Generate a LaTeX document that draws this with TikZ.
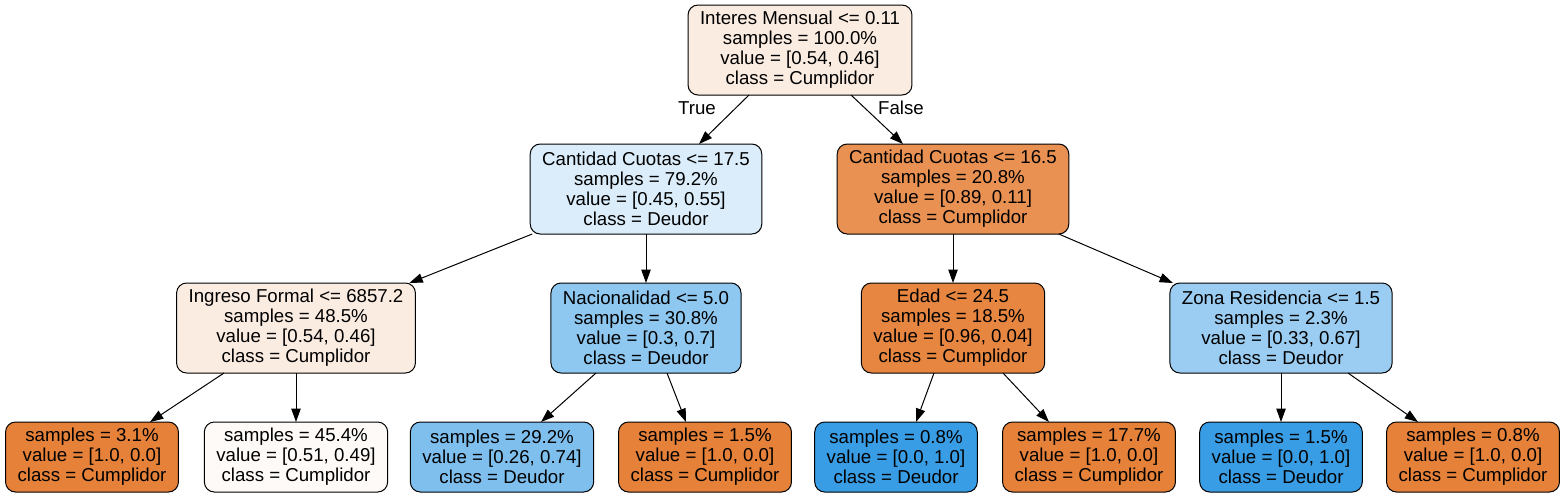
\documentclass[tikz,border=0pt]{standalone}
\usepackage{fontspec}
\setmainfont{Liberation Sans}
\usetikzlibrary{arrows.meta,calc}
\definecolor{cumpl}{RGB}{229,129,57}
\definecolor{deud}{RGB}{57,157,229}
\definecolor{rootc}{RGB}{251,236,226}
\definecolor{cuotasa}{RGB}{219,237,250}
\definecolor{cuotasb}{RGB}{232,145,82}
\definecolor{nacc}{RGB}{142,199,240}
\definecolor{edadc}{RGB}{230,134,65}
\definecolor{zonac}{RGB}{155,205,242}
\definecolor{leafb}{RGB}{254,250,247}
\definecolor{leafc}{RGB}{127,191,238}
\begin{document}
\begin{tikzpicture}[x=0.75pt,y=-0.75pt,>={Triangle[length=10pt,width=7pt]},
		box/.style={draw=black,line width=0.75pt,rounded corners=7.5pt,align=center,inner xsep=9pt,inner ysep=0pt,outer sep=0pt,font=\fontsize{14}{15}\selectfont},
		split/.style={box,minimum height=67.5pt},
		leaf/.style={box,minimum height=52.5pt},
		edge/.style={->,line width=0.75pt},
		lbl/.style={font=\fontsize{14}{15}\selectfont,inner sep=0pt}]
		\fill[white] (0,0) rectangle (1565,497);
		% level 0
		\node[split,fill=rootc] (root) at (800,50) {Interes Mensual <= 0.11\\samples = 100.0\%\\value = [0.54, 0.46]\\class = Cumplidor};
		% level 1
		\node[split,fill=cuotasa] (cuotasT) at (646,189) {Cantidad Cuotas <= 17.5\\samples = 79.2\%\\value = [0.45, 0.55]\\class = Deudor};
		\node[split,fill=cuotasb] (cuotasF) at (953,189) {Cantidad Cuotas <= 16.5\\samples = 20.8\%\\value = [0.89, 0.11]\\class = Cumplidor};
		% level 2
		\node[split,fill=rootc] (ingreso) at (296,328) {Ingreso Formal <= 6857.2\\samples = 48.5\%\\value = [0.54, 0.46]\\class = Cumplidor};
		\node[split,fill=nacc] (nacion) at (646,328) {Nacionalidad <= 5.0\\samples = 30.8\%\\value = [0.3, 0.7]\\class = Deudor};
		\node[split,fill=edadc] (edad) at (953,328) {Edad <= 24.5\\samples = 18.5\%\\value = [0.96, 0.04]\\class = Cumplidor};
		\node[split,fill=zonac] (zona) at (1281,328) {Zona Residencia <= 1.5\\samples = 2.3\%\\value = [0.33, 0.67]\\class = Deudor};
		% leaves
		\node[leaf,fill=cumpl] (hojaA) at (92,457) {samples = 3.1\%\\value = [1.0, 0.0]\\class = Cumplidor};
		\node[leaf,fill=leafb] (hojaB) at (296,457) {samples = 45.4\%\\value = [0.51, 0.49]\\class = Cumplidor};
		\node[leaf,fill=leafc] (hojaC) at (502,457) {samples = 29.2\%\\value = [0.26, 0.74]\\class = Deudor};
		\node[leaf,fill=cumpl] (hojaD) at (705,457) {samples = 1.5\%\\value = [1.0, 0.0]\\class = Cumplidor};
		\node[leaf,fill=deud] (hojaE) at (896,457) {samples = 0.8\%\\value = [0.0, 1.0]\\class = Deudor};
		\node[leaf,fill=cumpl] (hojaF) at (1089,457) {samples = 17.7\%\\value = [1.0, 0.0]\\class = Cumplidor};
		\node[leaf,fill=deud] (hojaG) at (1281,457) {samples = 1.5\%\\value = [0.0, 1.0]\\class = Deudor};
		\node[leaf,fill=cumpl] (hojaH) at (1473,457) {samples = 0.8\%\\value = [1.0, 0.0]\\class = Cumplidor};
		% edges
		\draw[edge] ($(root.south)+(-51,0)$) -- ($(cuotasT.north)+(53,0)$);
		\draw[edge] ($(root.south)+(51,0)$) -- ($(cuotasF.north)+(-50,0)$);
		\node[lbl] (verdad) at (697,108) {True};
		\node[lbl] (falso) at (901,108) {False};
		\draw[edge] ($(cuotasT.south west)+(2,0)$) -- ($(ingreso.north east)+(-6,0)$);
		\draw[edge] (cuotasT.south) -- (nacion.north);
		\draw[edge] (cuotasF.south) -- (edad.north);
		\draw[edge] ($(cuotasF.south east)+(-10,0)$) -- ($(zona.north west)+(3,0)$);
		\draw[edge] ($(ingreso.south)+(-72,0)$) -- ($(hojaA.north)+(58,0)$);
		\draw[edge] (ingreso.south) -- (hojaB.north);
		\draw[edge] ($(nacion.south)+(-50,0)$) -- ($(hojaC.north)+(39,0)$);
		\draw[edge] ($(nacion.south)+(21,0)$) -- ($(hojaD.north)+(-19,0)$);
		\draw[edge] ($(edad.south)+(-19,0)$) -- ($(hojaE.north)+(20,0)$);
		\draw[edge] ($(edad.south)+(50,0)$) -- ($(hojaF.north)+(-40,0)$);
		\draw[edge] (zona.south) -- (hojaG.north);
		\draw[edge] ($(zona.south)+(67,0)$) -- ($(hojaH.north)+(-55,0)$);
\end{tikzpicture}
\end{document}
